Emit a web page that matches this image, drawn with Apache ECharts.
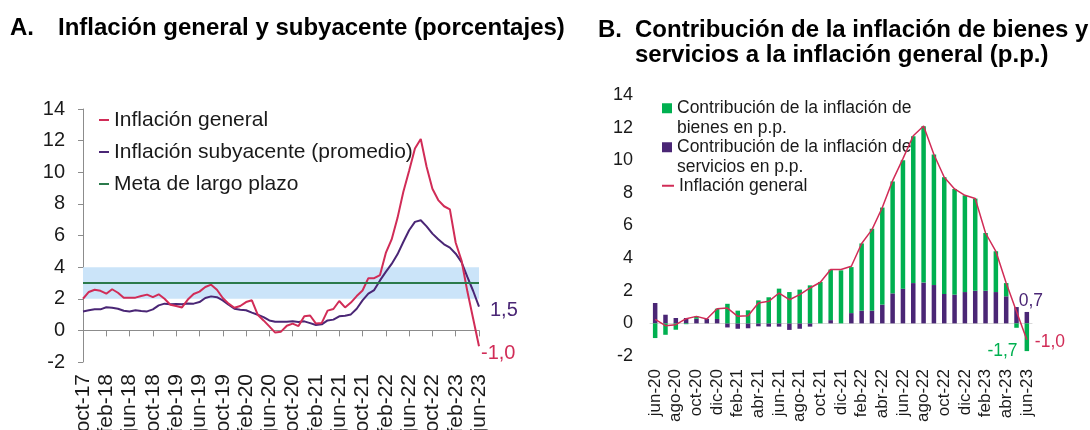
<!DOCTYPE html>
<html>
<head>
<meta charset="utf-8">
<script src="https://cdn.jsdelivr.net/npm/echarts@6/dist/echarts.min.js"></script>
<style>
  html, body { margin: 0; padding: 0; background: #fff; }
  #chart { width: 1090px; height: 430px; }
</style>
</head>
<body>
<div id="chart"></div>
<script>
// --- data ---
var mesesA = [
  'oct-17','nov-17','dic-17','ene-18','feb-18','mar-18','abr-18','may-18','jun-18','jul-18','ago-18','sep-18',
  'oct-18','nov-18','dic-18','ene-19','feb-19','mar-19','abr-19','may-19','jun-19','jul-19','ago-19','sep-19',
  'oct-19','nov-19','dic-19','ene-20','feb-20','mar-20','abr-20','may-20','jun-20','jul-20','ago-20','sep-20',
  'oct-20','nov-20','dic-20','ene-21','feb-21','mar-21','abr-21','may-21','jun-21','jul-21','ago-21','sep-21',
  'oct-21','nov-21','dic-21','ene-22','feb-22','mar-22','abr-22','may-22','jun-22','jul-22','ago-22','sep-22',
  'oct-22','nov-22','dic-22','ene-23','feb-23','mar-23','abr-23','may-23','jun-23'
];

// interanual, %
var inflGeneral = [
  2.0, 2.43, 2.57, 2.5, 2.32, 2.6, 2.38, 2.07, 2.07, 2.07, 2.17, 2.26,
  2.1, 2.28, 2.0, 1.62, 1.54, 1.45, 1.95, 2.3, 2.45, 2.74, 2.89, 2.57,
  2.05, 1.69, 1.43, 1.54, 1.79, 1.9, 0.99, 0.63, 0.25, -0.14, -0.08, 0.29,
  0.43, 0.27, 0.9, 0.94, 0.43, 0.47, 1.25, 1.35, 1.86, 1.45, 1.76, 2.17,
  2.52, 3.3, 3.3, 3.5, 4.9, 5.75, 7.1, 8.75, 10.1, 11.5, 12.1, 10.35,
  8.96, 8.24, 7.85, 7.65, 5.54, 4.42, 2.47, 0.73, -1.0
];
var inflSubyacente = [
  1.2, 1.27, 1.33, 1.33, 1.46, 1.43, 1.37, 1.24, 1.2, 1.27, 1.22, 1.2,
  1.33, 1.58, 1.69, 1.65, 1.67, 1.65, 1.7, 1.69, 1.79, 2.05, 2.15, 2.1,
  1.9, 1.62, 1.37, 1.31, 1.27, 1.12, 0.99, 0.84, 0.63, 0.55, 0.55, 0.55,
  0.57, 0.53, 0.57, 0.46, 0.34, 0.38, 0.63, 0.68, 0.89, 0.93, 1.01, 1.37,
  1.9, 2.32, 2.55, 3.16, 3.7, 4.2, 4.81, 5.59, 6.33, 6.86, 6.96, 6.58,
  6.12, 5.76, 5.44, 5.23, 4.85, 4.32, 3.38, 2.49, 1.5
];
var metaLargoPlazo = 3;
var rangoMeta = [2, 4];

// panel B: jun-20 .. jun-23
var mesesB = mesesA.slice(32);
var inflGeneralB = inflGeneral.slice(32);
var contribBienes = [
  -0.9, -0.7, -0.39, -0.05, 0.15, 0, 0.63, 1.2, 0.78, 0.8, 1.41, 1.6,
  2.13, 1.92, 2.07, 2.33, 2.54, 3.1, 3.25, 2.82, 4.12, 5.02, 5.95, 6.86,
  7.87, 9.0, 9.58, 8.0, 7.16, 6.48, 5.93, 5.65, 3.54, 2.5, 0.81, -0.27, -1.7
];
var contribServicios = [
  1.25, 0.53, 0.33, 0.33, 0.28, 0.28, 0.27, -0.25, -0.33, -0.3, -0.18, -0.2,
  -0.2, -0.4, -0.33, -0.2, 0, 0.2, 0, 0.63, 0.78, 0.78, 1.15, 1.84,
  2.13, 2.47, 2.5, 2.35, 1.8, 1.76, 1.92, 2.0, 2.0, 1.92, 1.66, 1.0, 0.7
];

// --- styles ---
var font = "'Liberation Sans', Arial, sans-serif";
var ink = '#1a1a1a';
var rojo = '#d12c57';
var morado = '#4a2675';
var verde = '#00b050';
var verdeMeta = '#2b7a4b';
var azulBanda = '#cbe4f9';
var gris = '#8c8c8c';

function coma(v) { return v.toFixed(1).replace('.', ','); }

var lastB = mesesB.length - 1;
var tituloStyle = { fontFamily: font, fontSize: 24, fontWeight: 'bold', color: '#000', lineHeight: 25 };

var chart = echarts.init(document.getElementById('chart'), null, { renderer: 'canvas' });

chart.setOption({
  animation: false,
  backgroundColor: '#fff',
  textStyle: { fontFamily: font },
  title: [
    { text: 'A.', left: 10, top: 16, padding: 0, textStyle: tituloStyle },
    { text: 'Inflación general y subyacente (porcentajes)', left: 58, top: 16, padding: 0, textStyle: tituloStyle },
    { text: 'B.', left: 598, top: 18, padding: 0, textStyle: tituloStyle },
    { text: 'Contribución de la inflación de bienes y\nservicios a la inflación general (p.p.)', left: 635, top: 18, padding: 0,
      textStyle: tituloStyle }
  ],
  legend: [
    {
      data: ['Inflación general', 'Inflación subyacente (promedio)', 'Meta de largo plazo'],
      orient: 'vertical', left: 99, top: 108, padding: 0, itemGap: 8,
      icon: 'rect', itemWidth: 10, itemHeight: 2,
      textStyle: { fontFamily: font, fontSize: 21, color: ink, lineHeight: 24 }
    },
    {
      // leading empty line keeps the icon on the first text line
      data: ['bienes'],
      formatter: function() { return '\nContribución de la inflación de\nbienes en p.p.'; },
      orient: 'vertical', left: 662, top: 79, padding: 0,
      icon: 'rect', itemWidth: 10, itemHeight: 10,
      textStyle: { fontFamily: font, fontSize: 17.5, color: ink, lineHeight: 19.5 }
    },
    {
      data: ['servicios'],
      formatter: function() { return '\nContribución de la inflación de\nservicios en p.p.'; },
      orient: 'vertical', left: 662, top: 118, padding: 0,
      icon: 'rect', itemWidth: 10, itemHeight: 10,
      textStyle: { fontFamily: font, fontSize: 17.5, color: ink, lineHeight: 19.5 }
    },
    {
      data: ['Inflación general '],
      orient: 'vertical', left: 662, top: 176, padding: 0,
      icon: 'rect', itemWidth: 12, itemHeight: 2,
      textStyle: { fontFamily: font, fontSize: 17.5, color: ink, lineHeight: 19.5 }
    }
  ],
  grid: [
    { left: 83, right: 611, top: 109, bottom: 68, outerBoundsMode: 'none', containLabel: false },
    { left: 650, right: 58, top: 95, bottom: 74, outerBoundsMode: 'none', containLabel: false }
  ],
  xAxis: [
    // A: labels at bottom
    { type: 'category', gridIndex: 0, data: mesesA, boundaryGap: false,
      axisLine: { show: false, onZero: false }, axisTick: { show: false },
      axisLabel: { rotate: 90, interval: 3, margin: 12, fontFamily: font, fontSize: 21, color: ink } },
    // A: zero line with ticks
    { type: 'category', gridIndex: 0, data: mesesA, boundaryGap: false, position: 'bottom',
      axisLine: { show: true, onZero: true, lineStyle: { color: gris, width: 1 } },
      axisTick: { show: true, interval: 3, length: 6, lineStyle: { color: gris } },
      axisLabel: { show: false } },
    // B: labels at bottom
    { type: 'category', gridIndex: 1, data: mesesB,
      axisLine: { show: false, onZero: false }, axisTick: { show: false },
      axisLabel: { rotate: 90, interval: 1, margin: 13, fontFamily: font, fontSize: 17, color: ink } },
    // B: zero line
    { type: 'category', gridIndex: 1, data: mesesB, position: 'bottom',
      axisLine: { show: true, onZero: true, lineStyle: { color: '#d9d9d9', width: 1 } },
      axisTick: { show: false }, axisLabel: { show: false } }
  ],
  yAxis: [
    { type: 'value', gridIndex: 0, min: -2, max: 14, interval: 2,
      axisLine: { show: true, lineStyle: { color: gris } },
      axisTick: { show: true, length: 5, lineStyle: { color: gris } },
      splitLine: { show: false },
      axisLabel: { margin: 18, fontFamily: font, fontSize: 20, color: ink } },
    { type: 'value', gridIndex: 1, min: -2, max: 14, interval: 2,
      axisLine: { show: false }, axisTick: { show: false },
      splitLine: { show: false },
      axisLabel: { margin: 17, fontFamily: font, fontSize: 18, color: ink } }
  ],
  series: [
    {
      name: 'Meta de largo plazo', type: 'line', xAxisIndex: 0, yAxisIndex: 0,
      data: [], color: verdeMeta, lineStyle: { color: verdeMeta, width: 2 },
      markArea: { silent: true, itemStyle: { color: azulBanda },
        data: [[{ yAxis: rangoMeta[0] }, { yAxis: rangoMeta[1] }]] },
      markLine: { silent: true, symbol: ['none', 'none'], label: { show: false },
        lineStyle: { color: verdeMeta, width: 2, type: 'solid' },
        data: [{ yAxis: metaLargoPlazo }] }
    },
    {
      name: 'Inflación subyacente (promedio)', type: 'line', xAxisIndex: 0, yAxisIndex: 0,
      data: inflSubyacente, showSymbol: false, color: morado,
      lineStyle: { color: morado, width: 2 },
      endLabel: { show: true, formatter: function(p) { return coma(p.value); },
        offset: [3, 4], fontFamily: font, fontSize: 20, color: morado }
    },
    {
      name: 'Inflación general', type: 'line', xAxisIndex: 0, yAxisIndex: 0,
      data: inflGeneral, showSymbol: false, color: rojo,
      lineStyle: { color: rojo, width: 2 },
      endLabel: { show: true, formatter: function(p) { return coma(p.value); },
        offset: [-6, 7], fontFamily: font, fontSize: 20, color: rojo }
    },
    {
      name: 'servicios', type: 'bar', xAxisIndex: 2, yAxisIndex: 1, stack: 'contrib',
      barWidth: 4.5, color: morado, itemStyle: { color: morado },
      data: contribServicios.map(function(v, i) {
        if (i !== lastB) return v;
        return { value: v, label: { show: true, position: 'top', offset: [4, 3],
          formatter: function(p) { return coma(p.value); },
          fontFamily: font, fontSize: 17.5, color: morado } };
      })
    },
    {
      name: 'bienes', type: 'bar', xAxisIndex: 2, yAxisIndex: 1, stack: 'contrib',
      barWidth: 4.5, color: verde, itemStyle: { color: verde },
      data: contribBienes.map(function(v, i) {
        if (i !== lastB) return v;
        return { value: v, label: { show: true, position: 'left', offset: [-2, 14],
          formatter: function(p) { return coma(p.value); },
          fontFamily: font, fontSize: 17.5, color: verde } };
      })
    },
    {
      name: 'Inflación general ', type: 'line', xAxisIndex: 2, yAxisIndex: 1,
      data: inflGeneralB, showSymbol: false, color: rojo,
      lineStyle: { color: rojo, width: 1.5 }, z: 5,
      endLabel: { show: true, formatter: function(p) { return coma(p.value); },
        offset: [0, 2], fontFamily: font, fontSize: 17.5, color: rojo }
    }
  ]
});

window.addEventListener('resize', function() { chart.resize(); });
</script>
</body>
</html>
